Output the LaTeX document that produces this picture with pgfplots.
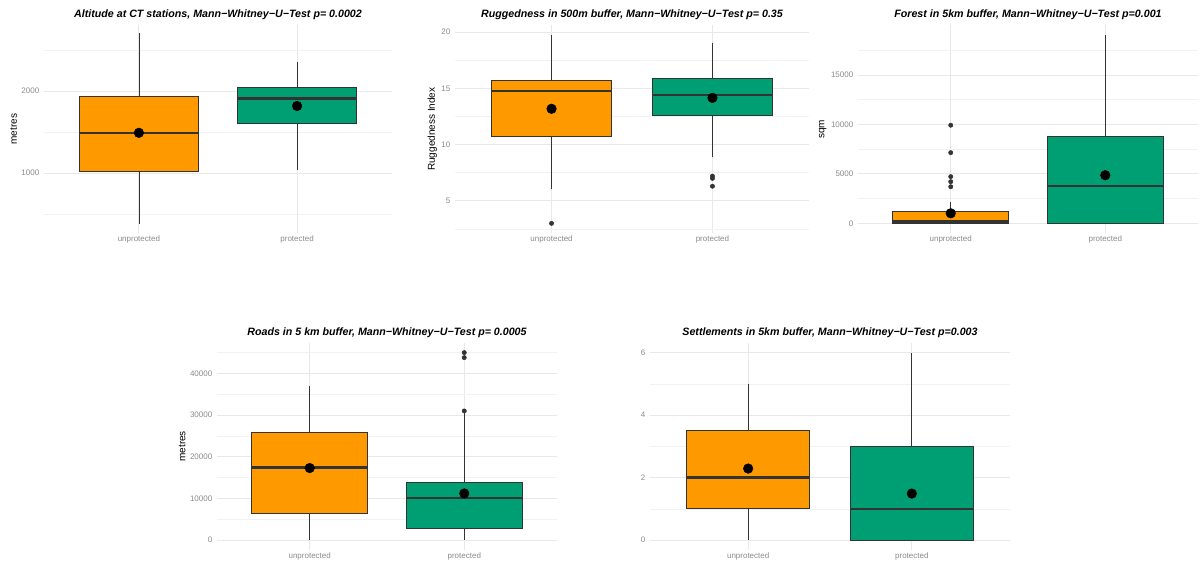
\documentclass[border=0pt]{standalone}
\usepackage{fontspec}
\setmainfont{Liberation Sans}
\usepackage{pgfplots}
\pgfplotsset{compat=1.18}
\usepgfplotslibrary{statistics}
\definecolor{orng}{HTML}{FF9900}
\definecolor{grn}{HTML}{009E73}
\definecolor{boxline}{HTML}{333333}
\definecolor{ticklab}{HTML}{8A8A8A}
\pgfplotsset{
  panel/.style={
    scale only axis, anchor=south west,
    xmin=0.4, xmax=2.6, xtick={1,2}, xticklabels={unprotected,protected},
    axis line style={draw=none}, tick style={draw=none},
    major tick length=0pt, minor tick length=0pt,
    xmajorgrids, ymajorgrids, yminorgrids,
    major grid style={draw=black!9, line width=0.7pt},
    minor grid style={draw=black!5, line width=0.5pt},
    tick label style={font=\fontsize{6}{7}\selectfont, text=ticklab},
    xticklabel shift=-1.2pt,
    /pgf/number format/assume math mode=true,
    /pgf/number format/1000 sep={},
    scaled y ticks=false,
    ylabel style={font=\fontsize{7.5}{9}\selectfont},
    ylabel shift=-3.5pt,
    title style={font=\fontsize{8}{9}\selectfont\bfseries\itshape, at={(0.5,1)}, anchor=center, yshift=1.9pt},
    boxplot/draw direction=y,
    boxplot/box extend=0.75,
    boxplot/whisker extend=0,
    boxplot/every median/.style={line width=1.9pt, draw=boxline},
    boxplot/every whisker/.style={draw=boxline, fill=none, line width=0.6pt},
  },
  bx/.style={boxplot prepared={#1}, draw=boxline, line width=0.6pt, mark=none},
  meanpt/.style={only marks, mark=*, mark size=3.6pt, black},
  outl/.style={only marks, mark=*, mark size=1.6pt, boxline},
}
\begin{document}
\begin{tikzpicture}
\path (0,0) rectangle (900pt,426.75pt);
% Panel 1
\begin{axis}[panel, at={(33pt,252.15pt)}, width=261pt, height=155.5pt,
  ymin=271, ymax=2799, ytick={1000,2000}, minor ytick={500,1500,2500},
  ylabel={metres},
  title={Altitude at CT stations, Mann−Whitney−U−Test p= 0.0002}]
\addplot[bx={draw position=1, lower whisker=380, lower quartile=1025, median=1488, upper quartile=1930, upper whisker=2707}, fill=orng] coordinates {};
\addplot[bx={draw position=2, lower whisker=1037, lower quartile=1606, median=1911, upper quartile=2045, upper whisker=2357}, fill=grn] coordinates {};
\addplot[meanpt] coordinates {(1,1490) (2,1817)};
\end{axis}
% Panel 2
\begin{axis}[panel, at={(341.25pt,252.15pt)}, width=265.5pt, height=155.5pt,
  ymin=2.16, ymax=20.6, ytick={5,10,15,20}, minor ytick={2.5,7.5,12.5,17.5},
  ylabel={Ruggedness Index},
  title={Ruggedness in 500m buffer, Mann−Whitney−U−Test p= 0.35}]
\addplot[bx={draw position=1, lower whisker=6.1, lower quartile=10.76, median=14.79, upper quartile=15.74, upper whisker=19.74}, fill=orng] coordinates {};
\addplot[bx={draw position=2, lower whisker=8.9, lower quartile=12.6, median=14.4, upper quartile=15.85, upper whisker=19.0}, fill=grn] coordinates {};
\addplot[outl] coordinates {(1,3.0) (2,7.2) (2,7.0) (2,6.3)};
\addplot[meanpt] coordinates {(1,13.19) (2,14.16)};
\end{axis}
% Panel 3
\begin{axis}[panel, at={(643.5pt,252.15pt)}, width=255pt, height=155.5pt,
  ymin=-962, ymax=20010, ytick={0,5000,10000,15000}, minor ytick={2500,7500,12500,17500},
  ylabel={sqm},
  title={Forest in 5km buffer, Mann−Whitney−U−Test p=0.001}]
\addplot[bx={draw position=1, lower whisker=0, lower quartile=0, median=180, upper quartile=1245, upper whisker=2190}, fill=orng] coordinates {};
\addplot[bx={draw position=2, lower whisker=0, lower quartile=0, median=3775, upper quartile=8765, upper whisker=19060}, fill=grn] coordinates {};
\addplot[outl] coordinates {(1,3700) (1,4210) (1,4720) (1,7145) (1,9920)};
\addplot[meanpt] coordinates {(1,1010) (2,4860)};
\end{axis}
% Panel 4
\begin{axis}[panel, at={(162.75pt,14.625pt)}, width=255pt, height=154.7pt,
  ymin=-2250, ymax=47250, ytick={0,10000,20000,30000,40000}, minor ytick={5000,15000,25000,35000,45000},
  ylabel={metres},
  title={Roads in 5 km buffer, Mann−Whitney−U−Test p= 0.0005}]
\addplot[bx={draw position=1, lower whisker=0, lower quartile=6400, median=17430, upper quartile=25830, upper whisker=36930}, fill=orng] coordinates {};
\addplot[bx={draw position=2, lower whisker=0, lower quartile=2800, median=10150, upper quartile=13900, upper whisker=30400}, fill=grn] coordinates {};
\addplot[outl] coordinates {(2,31000) (2,43800) (2,45000)};
\addplot[meanpt] coordinates {(1,17300) (2,11200)};
\end{axis}
% Panel 5
\begin{axis}[panel, at={(487.5pt,14.625pt)}, width=270pt, height=154.7pt,
  ymin=-0.3, ymax=6.3, ytick={0,2,4,6}, minor ytick={1,3,5},
  title={Settlements in 5km buffer, Mann−Whitney−U−Test p=0.003}]
\addplot[bx={draw position=1, lower whisker=0, lower quartile=1, median=2, upper quartile=3.5, upper whisker=5}, fill=orng] coordinates {};
\addplot[bx={draw position=2, lower whisker=0, lower quartile=0, median=1, upper quartile=3, upper whisker=6}, fill=grn] coordinates {};
\addplot[meanpt] coordinates {(1,2.29) (2,1.49)};
\end{axis}
\end{tikzpicture}
\end{document}
